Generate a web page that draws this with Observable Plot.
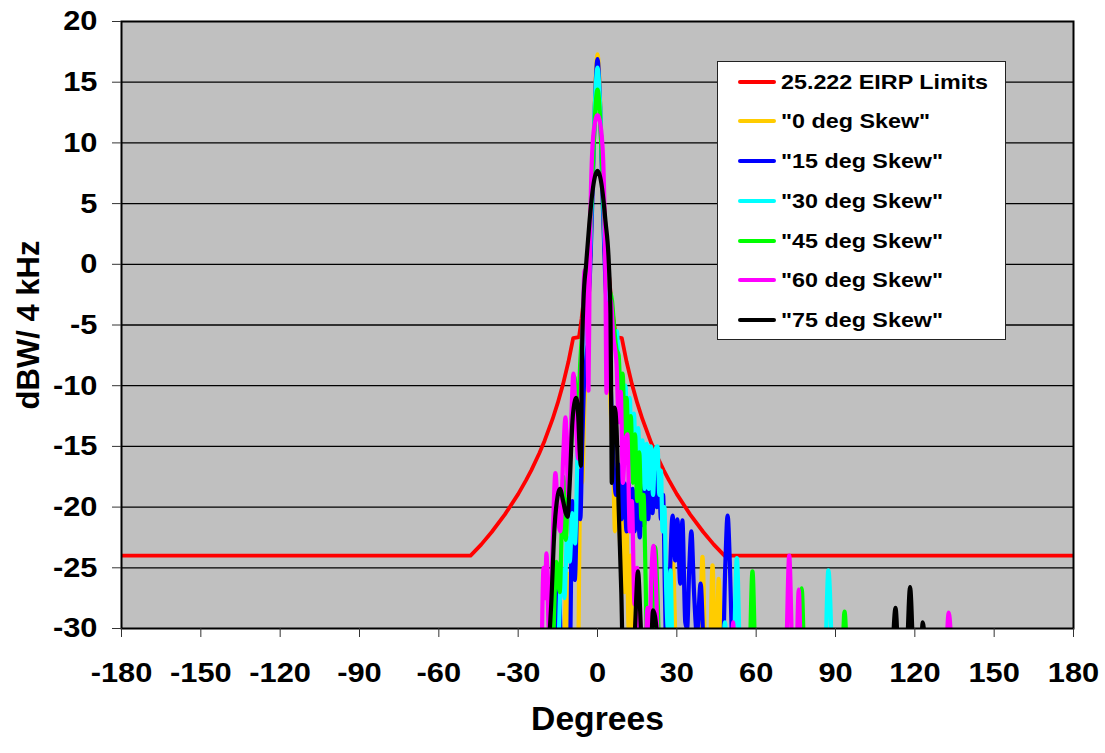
<!DOCTYPE html>
<html><head><meta charset="utf-8">
<script src="https://cdn.jsdelivr.net/npm/d3@7"></script>
<script src="https://cdn.jsdelivr.net/npm/@observablehq/plot@0.6"></script>
<style>
body{margin:0;background:#fff;font-family:"Liberation Sans",Arial,sans-serif;}
#wrap{position:relative;width:1105px;height:753px;}
#legend{position:absolute;left:717px;top:61px;width:287px;height:277px;background:#fff;border:1px solid #222;}
.row{position:absolute;left:0;height:0;}
.sw{position:absolute;left:20px;width:38px;height:4px;top:-2px;border-radius:2px;}
.lb{position:absolute;left:63px;top:-13px;line-height:26px;transform:scaleX(1.11);transform-origin:left center;white-space:nowrap;font-weight:bold;font-size:21px;color:#000;}
</style></head><body><div id="wrap"></div>
<script>
// ---- data ----
const xTicks = [-180,-150,-120,-90,-60,-30,0,30,60,90,120,150,180];
const yTicks = [-30,-25,-20,-15,-10,-5,0,5,10,15,20];
const gridLines = [-25,-20,-15,-10,-5,0,5,10,15];

const seriesNames = ["25.222 EIRP Limits","\"0 deg Skew\"","\"15 deg Skew\"","\"30 deg Skew\"","\"45 deg Skew\"","\"60 deg Skew\"","\"75 deg Skew\""];
const seriesColors = ["#ff0000","#ffcc00","#0000ff","#00ffff","#00ff00","#ff00ff","#000000"];

const limits = [[-180,-24],[-48,-24],[-44,-23.09],[-40,-22.05],[-35,-20.6],[-30,-18.93],[-27,-17.78],[-25,-16.95],[-22,-15.56],[-20,-14.53],[-17,-12.76],[-15,-11.4],[-13,-9.85],[-11,-8.03],[-9.2,-6.09],[-7,-6],[-6,-4.45],[-5,-2.47],[-4,-0.05],[-3,3.07],[-2.5,5.05],[-2,7.47],[-1.5,10.6],[0,NaN],[1.5,10.6],[2,7.47],[2.5,5.05],[3,3.07],[4,-0.05],[5,-2.47],[6,-4.45],[7,-6],[9.2,-6.09],[11,-8.03],[13,-9.85],[15,-11.4],[17,-12.76],[20,-14.53],[22,-15.56],[25,-16.95],[27,-17.78],[30,-18.93],[35,-20.6],[40,-22.05],[44,-23.09],[48,-24],[180,-24]];

const skew0 = [[-13,-34],[-11.3,-25.5],[-10.4,-34],[-7.4,-34],[-6.9,-24],[-6.4,-16.5],[-5.8,-18],[-5,-12],[-4,-7],[-3,-1],[-2,6],[-1,13.5],[0,17.3],[1,13.5],[2,6],[3,-1],[4,-6],[5,-12],[6,-17],[6.6,-22],[7.2,-16],[8,-19],[8.8,-24],[9.5,-19.5],[10.3,-27],[11,-22],[11.8,-30],[12.5,-24],[13.4,-34],[26.8,-34],[28.5,-24.6],[30,-34],[38.3,-34],[39.7,-24.1],[41,-34],[42.3,-34],[43.5,-24.8],[44.6,-34],[44.9,-34],[45.8,-25.9],[46.9,-34]];

const skew15 = [[-16,-34],[-14.7,-25.8],[-13.5,-34],[-10.6,-34],[-9.5,-19.5],[-8.6,-26],[-7.3,-17],[-6.5,-21],[-5.8,-15],[-5,-9],[-4,-4],[-3,-1.5],[-2,5],[-1,13],[0,16.9],[1,13],[2,5],[3,-1.5],[4,-5],[5,-10],[6,-16],[7,-19],[8,-16.5],[9,-21],[10,-18],[11,-22],[11.7,-18],[12.5,-21],[13.3,-18.5],[14,-22],[15,-19],[16,-22.5],[16.8,-18],[17.6,-21.5],[18.4,-17.8],[19.2,-21],[20,-17.5],[20.8,-20.5],[21.6,-17],[22.4,-20],[23.2,-17.5],[24,-21],[24.8,-19],[25.5,-27],[26.2,-34],[27.2,-27],[28.4,-20.7],[29.4,-24.4],[30.2,-21],[31.3,-26.3],[32.1,-21.1],[33.2,-29.5],[33.9,-30],[34.7,-25],[35.5,-22],[36.5,-27],[37.6,-30.5],[39,-26.3],[40.2,-32],[41,-34],[47.2,-34],[48.3,-25],[49.2,-20.7],[50.1,-25],[51.2,-34]];

const skew30 = [[-15,-34],[-13.5,-25],[-12.5,-27.5],[-11.5,-22.5],[-10.5,-24.5],[-9.5,-20.5],[-8.5,-23],[-7.5,-15],[-6.5,-10],[-5.5,-7],[-4.5,-6],[-3.5,-3],[-2.5,3],[-1.5,10],[-1,13],[0,16.2],[1,13],[1.5,10],[2.5,3],[3.5,-1],[4.5,-3],[5.5,-4],[6.5,-6.5],[7.3,-5.5],[8.2,-9],[9,-9.5],[9.8,-14],[10.6,-10],[11.4,-15.5],[12.2,-11],[13,-16.5],[13.8,-12.3],[14.6,-17],[15.4,-13.5],[16.2,-18],[17,-14.5],[17.8,-18.5],[18.6,-14.8],[19.4,-18.5],[20.2,-15],[21,-19],[21.8,-15.3],[22.7,-15],[23.4,-19],[24,-17],[24.6,-22],[25.3,-20],[26,-27],[26.6,-30],[27.6,-25.2],[28.6,-34],[47,-34],[48.2,-29.5],[49.3,-34],[51.2,-34],[52.7,-24.2],[54.2,-34],[85.8,-34],[87.3,-25.2],[88.8,-34]];

const skew45 = [[-17,-34],[-15.5,-24.5],[-14.3,-27],[-12.9,-17.5],[-12,-22.7],[-11,-17],[-10,-15],[-8.7,-9.3],[-7.5,-13],[-6.5,-8],[-5.5,-5],[-4.5,-4],[-3.5,-1.5],[-2.5,4],[-1.5,9.5],[-1,12],[0,14.4],[1,12],[1.5,9.5],[2.5,4],[3.5,0],[4.5,-2],[5.5,-3],[6.4,-5.5],[7.2,-7],[8,-7.5],[8.8,-11],[9.5,-9],[10.3,-14],[11,-11],[11.8,-16],[12.6,-12.5],[13.4,-18],[14.2,-14],[15,-19.5],[15.8,-15.5],[16.6,-21],[17.4,-19],[18.2,-26],[19,-34],[20.8,-34],[21.8,-23.3],[22.8,-28],[23.6,-34],[57.2,-34],[58.6,-25.3],[60,-34],[76,-34],[77.2,-26.7],[78.5,-34],[92.3,-34],[93.4,-28.6],[94.5,-34]];

const skew60 = [[-21.2,-34],[-20.4,-25],[-19.9,-27.5],[-19.3,-23.8],[-18.4,-30],[-17.4,-26],[-15.9,-17.2],[-14.9,-21],[-14,-22],[-13,-16],[-12.1,-12.6],[-11,-19.2],[-10.1,-14],[-9.1,-9],[-8.2,-13],[-7.3,-16],[-6.4,-12],[-5.6,-5],[-4.9,-0.5],[-4,-4],[-3.4,-10.4],[-3,-1],[-2.5,6],[-1.5,10.8],[0,12.3],[1.5,10.8],[2.5,6],[3,-1],[3.4,-10.6],[4.1,-4],[5,-3],[6,-6],[7.2,-8.2],[8,-13],[8.8,-10.5],[9.6,-18],[10.5,-14.5],[11.3,-14],[12.2,-22],[13,-19.5],[14,-28],[15,-25],[16,-34],[17.9,-34],[18.9,-28.3],[19.6,-32],[20.3,-26],[21.2,-23.2],[22.2,-27],[23.2,-34],[50.6,-34],[51.3,-29.5],[52,-34],[71,-34],[72.5,-24],[74,-34],[75,-34],[76.1,-26.8],[77.2,-34],[131.3,-34],[132.8,-28.7],[134.3,-34]];

const skew75 = [[-19,-34],[-17.5,-28],[-16.2,-21.5],[-15,-19],[-14.2,-18.5],[-13,-19.5],[-12,-20.5],[-11.3,-20.8],[-10.5,-18],[-9.5,-13],[-8.5,-11.2],[-8,-11],[-7.3,-12.5],[-6.7,-15.5],[-6.3,-16.6],[-5.9,-8],[-5.3,-3],[-4.3,0],[-3,3.6],[-2,5.8],[-1,7.2],[0,7.7],[1,7.2],[2,5.8],[3,3.6],[4.3,0],[4.9,-4],[5.2,-12],[5.4,-18],[5.9,-14],[6.5,-11.8],[7.2,-13.5],[8,-20],[9,-27],[9.8,-34],[13.5,-34],[14.2,-30],[15.3,-25.3],[16.4,-30],[17.2,-34],[19.8,-34],[21,-28.5],[22.5,-30.5],[23.5,-34],[110.8,-34],[112.7,-28.3],[114.2,-34],[116.5,-34],[118.2,-26.6],[119.9,-34],[121.8,-34],[123,-29.5],[124.3,-34]];

const seriesData = [limits, skew0, skew15, skew30, skew45, skew60, skew75];

// ---- chart ----
const lineMarks = seriesData.map((pts, i) => Plot.line(pts, {
  x: d => d[0], y: d => d[1],
  stroke: seriesColors[i], strokeWidth: i === 0 ? 3.8 : 4.2,
  curve: i === 0 ? "linear" : "monotone-x", clip: true,
  strokeLinejoin: "round", strokeLinecap: "round"
}));

const fmt = d => String(d);
const chart = Plot.plot({
  width: 1105, height: 753,
  marginLeft: 121, marginRight: 32, marginTop: 21, marginBottom: 125,
  x: {domain: [-180, 180]},
  y: {domain: [-30, 20]},
  style: {fontFamily: "'Liberation Sans', Arial, sans-serif", fontWeight: "bold", color: "#000", background: "#fff", overflow: "visible"},
  marks: [
    Plot.frame({fill: "#c0c0c0"}),
    Plot.ruleY(gridLines, {stroke: "#000", strokeWidth: 1.3}),
    ...lineMarks,
    Plot.frame({stroke: "#000", strokeWidth: 2}),
    Plot.axisX({ticks: xTicks, tickFormat: fmt, tickSize: 9, tickPadding: 25, fontSize: 28, fontWeight: "bold", label: null, stroke: "#333"}),
    Plot.axisY({ticks: yTicks, tickFormat: fmt, tickSize: 9, tickPadding: 15, fontSize: 28, fontWeight: "bold", label: null, stroke: "#333"}),
    Plot.text(["dBW/ 4 kHz"], {text: d => d, frameAnchor: "left", textAnchor: "middle", dx: -92, rotate: -90, fontSize: 31, fontWeight: "bold"}),
    Plot.text(["Degrees"], {text: d => d, frameAnchor: "bottom", dy: 101, fontSize: 33, fontWeight: "bold"})
  ]
});

// widen horizontal texts slightly to match the reference proportions
function widen(el, s) {
  const t = el.getAttribute("transform") || "";
  if (t) el.setAttribute("transform", t + ` scale(${s},1)`);
  else {
    const x = +el.getAttribute("x") || 0, y = +el.getAttribute("y") || 0;
    el.setAttribute("transform", `translate(${x},${y}) scale(${s},1)`);
    el.setAttribute("x", 0); el.setAttribute("y", 0);
  }
}
chart.querySelectorAll('g[aria-label$="tick label"] text').forEach(el => widen(el, 1.1));
chart.querySelectorAll("text").forEach(el => { if (el.textContent === "Degrees") widen(el, 1.02); });

const wrap = document.getElementById("wrap");
wrap.appendChild(chart);

// legend
const legend = document.createElement("div");
legend.id = "legend";
seriesNames.forEach((name, i) => {
  const row = document.createElement("div");
  row.className = "row";
  row.style.top = (19.7 + 39.7 * i) + "px";
  const sw = document.createElement("div");
  sw.className = "sw"; sw.style.background = seriesColors[i];
  const lb = document.createElement("div");
  lb.className = "lb"; lb.textContent = name;
  row.appendChild(sw); row.appendChild(lb);
  legend.appendChild(row);
});
wrap.appendChild(legend);
</script></body></html>
